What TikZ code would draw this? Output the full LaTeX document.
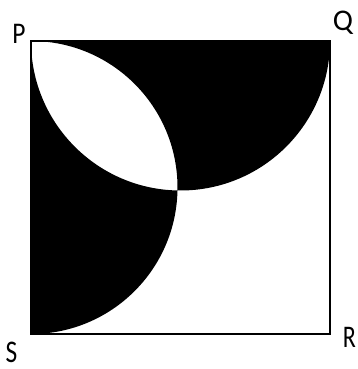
\documentclass[tikz,border=0pt]{standalone}
\usepackage{fontspec}
\setmainfont{Carlito}
\begin{document}
\begin{tikzpicture}[x=1pt,y=1pt,
  lbl/.style={inner sep=0pt, anchor=center, font=\fontsize{30}{30}\selectfont},
  frame/.style={line width=1.4pt, line join=miter}]
\useasboundingbox (0,0) rectangle (358,369);
\coordinate (P) at (31,328);
\coordinate (Q) at (330,328);
\coordinate (R) at (330,35);
\coordinate (S) at (31,35);
\fill[black, even odd rule]
  (P) arc[start angle=180, end angle=360, radius=149.5] -- cycle
  (S) arc[start angle=-90, end angle=90, radius=146.5] -- cycle;
\draw[frame] (P) -- (Q) -- (R) -- (S) -- cycle;
\node[lbl, xscale=0.85] (lP) at (19,335) {P};
\node[lbl] (lQ) at (343,346) {Q};
\node[lbl, xscale=0.8, yscale=1.05] (lR) at (349.5,32) {R};
\node[lbl, xscale=0.85, yscale=1.05] (lS) at (11.5,17) {S};
\end{tikzpicture}
\end{document}
